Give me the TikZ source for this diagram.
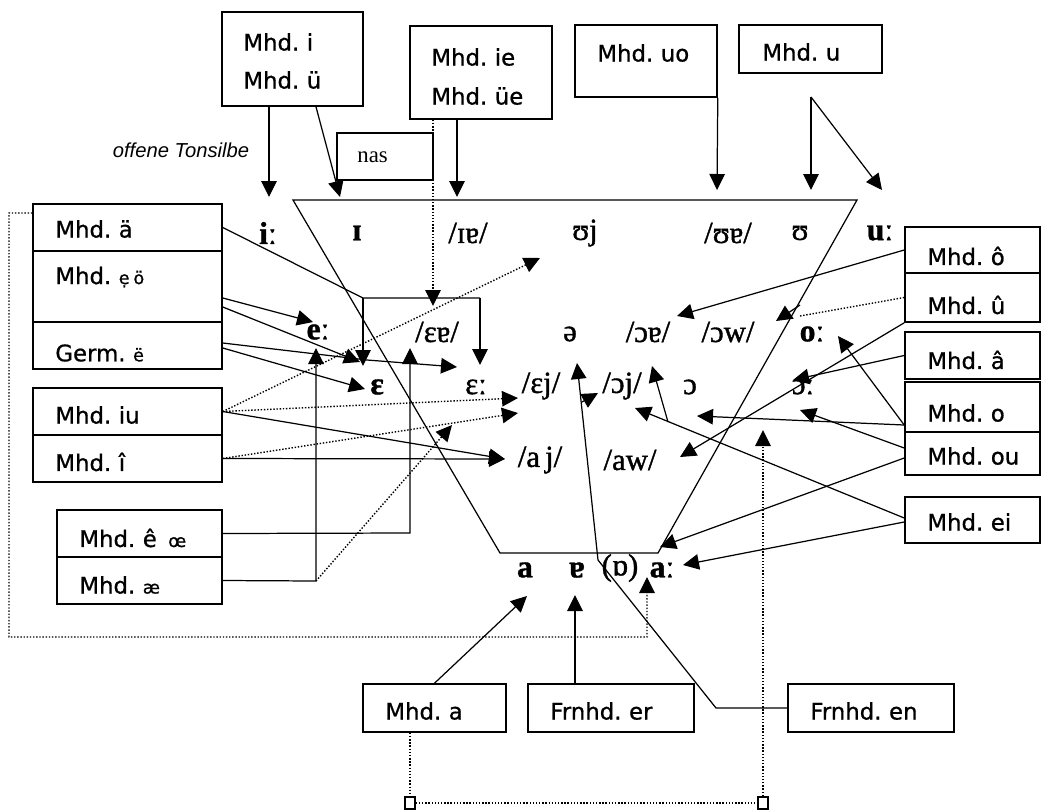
\documentclass[tikz,border=0pt]{standalone}
\usepackage{fontspec}
\setmainfont{Liberation Serif}
\newfontfamily\boxfont[FakeBold=0.8, WordSpace=0.7]{DejaVu Sans}
\newfontfamily\vowfont[FakeBold=1.2]{Liberation Serif}
\newfontfamily\notefont{Liberation Sans}
\usetikzlibrary{fit,arrows.meta}

\tikzset{
  box/.style={draw, line width=0.9pt, inner sep=0pt},
  lbl/.style={anchor=west, inner sep=0pt, font=\boxfont\fontsize{13}{15}\selectfont},
  vow/.style={inner sep=0pt, font=\vowfont\fontsize{17.5}{19}\selectfont},
  vowb/.style={vow, font=\vowfont\bfseries\fontsize{18}{20}\selectfont},
  ln/.style={line width=0.7pt},
  arr/.style={ln, -{Triangle[length=0.32cm,width=0.31cm]}},
  dots/.style={line width=0.8pt, densely dotted},
  darr/.style={dots, -{Triangle[length=0.32cm,width=0.31cm]}}
}
\newcommand{\sm}[1]{{\fontsize{10}{11}\selectfont #1}}

\begin{document}
\begin{tikzpicture}[x=0.02cm, y=-0.02cm]
\useasboundingbox (0,0) rectangle (1042,809);

% the trapezoid
\coordinate (tl) at (293,200);
\coordinate (tr) at (857,200);
\coordinate (br) at (658,553);
\coordinate (bl) at (500,553);
\draw[ln] (tl) -- (tr) -- (br) -- (bl) -- cycle;

% vowels
\node[vowb] (v-i) at (268,233) {iː};
\node[vowb] (v-I) at (357,233) {ɪ};
\node[vow] (v-Ie) at (468,233) {/ɪɐ/};
\node[vow] (v-Uj) at (585,233) {ʊj};
\node[vow] (v-Ue) at (728,233) {/ʊɐ/};
\node[vow] (v-U) at (800,233) {ʊ};
\node[vowb] (v-u) at (880,233) {uː};
\node[vowb] (v-e) at (318,332) {eː};
\node[vow] (v-Ee) at (437,332) {/ɛɐ/};
\node[vow] (v-schwa) at (570,334) {ə};
\node[vow] (v-Oe) at (648,332) {/ɔɐ/};
\node[vow] (v-Ow) at (728,332) {/ɔw/};
\node[vowb] (v-o) at (812,334) {oː};
\node[vowb] (v-E) at (377,387) {ɛ};
\node[vow] (v-EE) at (476,387) {ɛː};
\node[vow] (v-Ej) at (541,386) {/ɛj/};
\node[vow] (v-Oj) at (622,386) {/ɔj/};
\node[vow] (v-O) at (690,387) {ɔ};
\node[vow] (v-OO) at (803,387) {ɔː};
\node[vow] (v-aj) at (540,460) {/a\,j/};
\node[vow] (v-aw) at (630,460) {/aw/};
\node[vowb] (v-a) at (525,570) {a};
\node[vowb] (v-ae) at (577,570) {ɐ};
\node[vow] (v-Ob) at (620,568) {(ɒ)};
\node[vowb] (v-aa) at (662,570) {aː};

% boxes on top
\node[box, fit={(222,12)(363,106)}] (m-i) {};
\node[lbl] (m-i1) at (243,42) {Mhd. i};
\node[lbl] (m-i2) at (243,80) {Mhd. ü};
\node[box, fit={(410,26)(552,119)}] (m-ie) {};
\node[lbl] (m-ie1) at (431,57) {Mhd. ie};
\node[lbl] (m-ie2) at (431,96) {Mhd. üe};
\node[box, fit={(575,25)(717,97)}] (m-uo) {};
\node[lbl] (m-uo1) at (597,53) {Mhd. uo};
\node[box, fit={(739,25)(882,73)}] (m-u) {};
\node[lbl] (m-u1) at (762,52) {Mhd. u};
\node[box, fit={(337,133)(433,180)}] (nas) {};
\node[anchor=west, inner sep=0pt, font=\fontsize{13}{15}\selectfont] (nas1) at (357,157) {nas};
\node[inner sep=0pt, font=\notefont\itshape\fontsize{11.5}{13}\selectfont] (tons) at (181,150) {offene Tonsilbe};

% boxes on the left
\node[box, fit={(33,204)(222,251)}] (m-ae) {};
\node[lbl] (m-ae1) at (55,229) {Mhd. ä};
\node[box, fit={(33,251)(222,322)}] (m-eo) {};
\node[lbl] (m-eo1) at (55,277) {Mhd. \sm{ẹ ö}};
\node[box, fit={(33,322)(222,369)}] (m-ge) {};
\node[lbl] (m-ge1) at (55,353) {Germ. \sm{ë}};
\node[box, fit={(33,388)(222,435)}] (m-iu) {};
\node[lbl] (m-iu1) at (55,415) {Mhd. iu};
\node[box, fit={(33,435)(222,482)}] (m-ii) {};
\node[lbl] (m-ii1) at (55,462) {Mhd. î};
\node[box, fit={(57,510)(222,557)}] (m-ec) {};
\node[lbl] (m-ec1) at (79,538) {Mhd. ê\enspace\sm{œ}};
\node[box, fit={(57,557)(222,604)}] (m-ae2) {};
\node[lbl] (m-ae21) at (79,585) {Mhd. \sm{æ}};

% boxes on the right
\node[box, fit={(905,227)(1040,273)}] (m-oc) {};
\node[lbl] (m-oc1) at (927,256) {Mhd. ô};
\node[box, fit={(905,273)(1040,322)}] (m-uc) {};
\node[lbl] (m-uc1) at (927,305) {Mhd. û};
\node[box, fit={(905,332)(1040,379)}] (m-ac) {};
\node[lbl] (m-ac1) at (927,360) {Mhd. â};
\node[box, fit={(905,382)(1040,432)}] (m-o) {};
\node[lbl] (m-o1) at (927,413) {Mhd. o};
\node[box, fit={(905,432)(1040,475)}] (m-ou) {};
\node[lbl] (m-ou1) at (927,456) {Mhd. ou};
\node[box, fit={(905,497)(1040,543)}] (m-ei) {};
\node[lbl] (m-ei1) at (927,522) {Mhd. ei};

% boxes below
\node[box, fit={(363,684)(506,732)}] (m-a) {};
\node[lbl] (m-a1) at (385,711) {Mhd. a};
\node[box, fit={(528,684)(694,732)}] (f-er) {};
\node[lbl] (f-er1) at (550,711) {Frnhd. er};
\node[box, fit={(788,684)(954,732)}] (f-en) {};
\node[lbl] (f-en1) at (810,711) {Frnhd. en};

% arrow ends
\coordinate (p-i) at (269,197);
\coordinate (p-I) at (340,197);
\coordinate (p-Ie) at (457,197);
\coordinate (p-Ee) at (433,306);
\coordinate (p-Ue) at (717,190);
\coordinate (p-u) at (811,97);
\coordinate (p-U) at (811,190);
\coordinate (p-uu) at (882,190);
\coordinate (p-b1) at (363,298);
\coordinate (p-b2) at (480,298);
\coordinate (p-E1) at (363,366);
\coordinate (p-E2) at (480,365);
\coordinate (p-e) at (313,322);
\coordinate (p-E3) at (360,362);
\coordinate (p-g) at (367,360);
\coordinate (p-E4) at (457,367);
\coordinate (p-E) at (365,389);
\coordinate (p-c1) at (410,533);
\coordinate (p-c2) at (410,348);
\coordinate (p-d1) at (316,581);
\coordinate (p-d2) at (316,348);
\coordinate (p-aj) at (505,459);
\coordinate (p-Ej1) at (518,398);
\coordinate (p-Ej2) at (518,413);
\coordinate (p-Uj) at (540,258);
\coordinate (p-x) at (452,425);
\coordinate (p-Oe) at (677,316);
\coordinate (p-Ud) at (800,316);
\coordinate (p-aw) at (680,457);
\coordinate (p-OO) at (793,380);
\coordinate (p-O) at (697,416);
\coordinate (p-oo) at (838,336);
\coordinate (p-ou) at (800,410);
\coordinate (p-aa) at (660,547);
\coordinate (p-Oj) at (635,408);
\coordinate (p-k) at (668,422);
\coordinate (p-Oj2) at (652,366);
\coordinate (p-aa2) at (683,565);
\coordinate (p-s1) at (800,305);
\coordinate (p-Ow) at (776,321);
\coordinate (p-sw) at (577,363);
\coordinate (p-n1) at (716,708);
\coordinate (p-n2) at (598,560);
\coordinate (p-s2) at (582,402);
\coordinate (p-s3) at (598,393);
\coordinate (p-ae) at (575,595);
\coordinate (p-a) at (527,596);
\coordinate (p-l1) at (9,213);
\coordinate (p-l2) at (9,637);
\coordinate (p-l3) at (647,637);
\coordinate (p-al) at (647,577);
\coordinate (p-h1) at (410,803);
\coordinate (p-h2) at (763,803);
\coordinate (p-h3) at (763,430);

% top arrows
\draw[arr] (m-i.south -| p-i) -- (p-i);
\draw[arr] ([xshift=0.47cm]m-i.south) -- (p-I);
\draw[arr] (m-ie.south -| p-Ie) -- (p-Ie);
\draw[darr] (m-ie.south -| p-Ee) -- (p-Ee);
\draw[arr] (m-uo.south east) -- (p-Ue);
\draw[arr] (p-u) -- (p-U);
\draw[arr] (p-u) -- (p-uu);

% left arrows
\draw[ln] (m-ae.east) -- (p-b1) -- (p-b2);
\draw[arr] (p-b1) -- (p-E1);
\draw[arr] (p-b2) -- (p-E2);
\draw[arr] ([yshift=-0.23cm]m-eo.east) -- (p-e);
\draw[arr] ([yshift=-0.41cm]m-eo.east) -- (p-E3);
\draw[arr] ([yshift=0.05cm]m-ge.east) -- (p-g) -- (p-E4);
\draw[arr] ([yshift=-0.05cm]m-ge.east) -- (p-E);
\draw[arr] (m-ec.east) -- (p-c1) -- (p-c2);
\draw[arr] (m-ae2.east) -- (p-d1) -- (p-d2);
\draw[arr] (m-iu.east) -- (p-aj);
\draw[arr] (m-ii.east) -- (p-aj);
\draw[darr] (m-iu.east) -- (p-Ej1);
\draw[darr] (m-ii.east) -- (p-Ej2);
\draw[darr] (m-iu.east) -- (p-Uj);
\draw[darr] (p-d1) -- (p-x);

% right arrows
\draw[arr] (m-oc.west) -- (p-Oe);
\draw[dots] (m-uc.west) -- (p-Ud);
\draw[arr] (m-uc.south west) -- (p-aw);
\draw[arr] (m-ac.west) -- (p-OO);
\draw[arr] ([yshift=-0.36cm]m-o.west) -- (p-O);
\draw[arr] ([yshift=-0.36cm]m-o.west) -- (p-oo);
\draw[arr] ([yshift=0.11cm]m-ou.west) -- (p-ou);
\draw[arr] ([yshift=-0.09cm]m-ou.west) -- (p-aa);
\draw[arr] ([yshift=0.04cm]m-ei.west) -- (p-Oj);
\draw[arr] (p-k) -- (p-Oj2);
\draw[arr] ([yshift=-0.04cm]m-ei.west) -- (p-aa2);
\draw[arr] (p-s1) -- (p-Ow);

% arrows from below
\draw[arr] (f-en.west) -- (p-n1) -- (p-n2) -- (p-sw);
\draw[arr] (p-s2) -- (p-s3);
\draw[arr] (f-er.north -| p-ae) -- (p-ae);
\draw[arr] (m-a.north) -- (p-a);

% dotted frames
\draw[darr] ([yshift=0.29cm]m-ae.west) -- (p-l1) -- (p-l2) -- (p-l3) -- (p-al);
\draw[darr] (m-a.south -| p-h1) -- (p-h1) -- (p-h2) -- (p-h3);
\draw[line width=0.6pt, fill=white] (405,797) rectangle (415,809);
\draw[line width=0.6pt, fill=white] (758,797) rectangle (768,809);
\end{tikzpicture}
\end{document}
